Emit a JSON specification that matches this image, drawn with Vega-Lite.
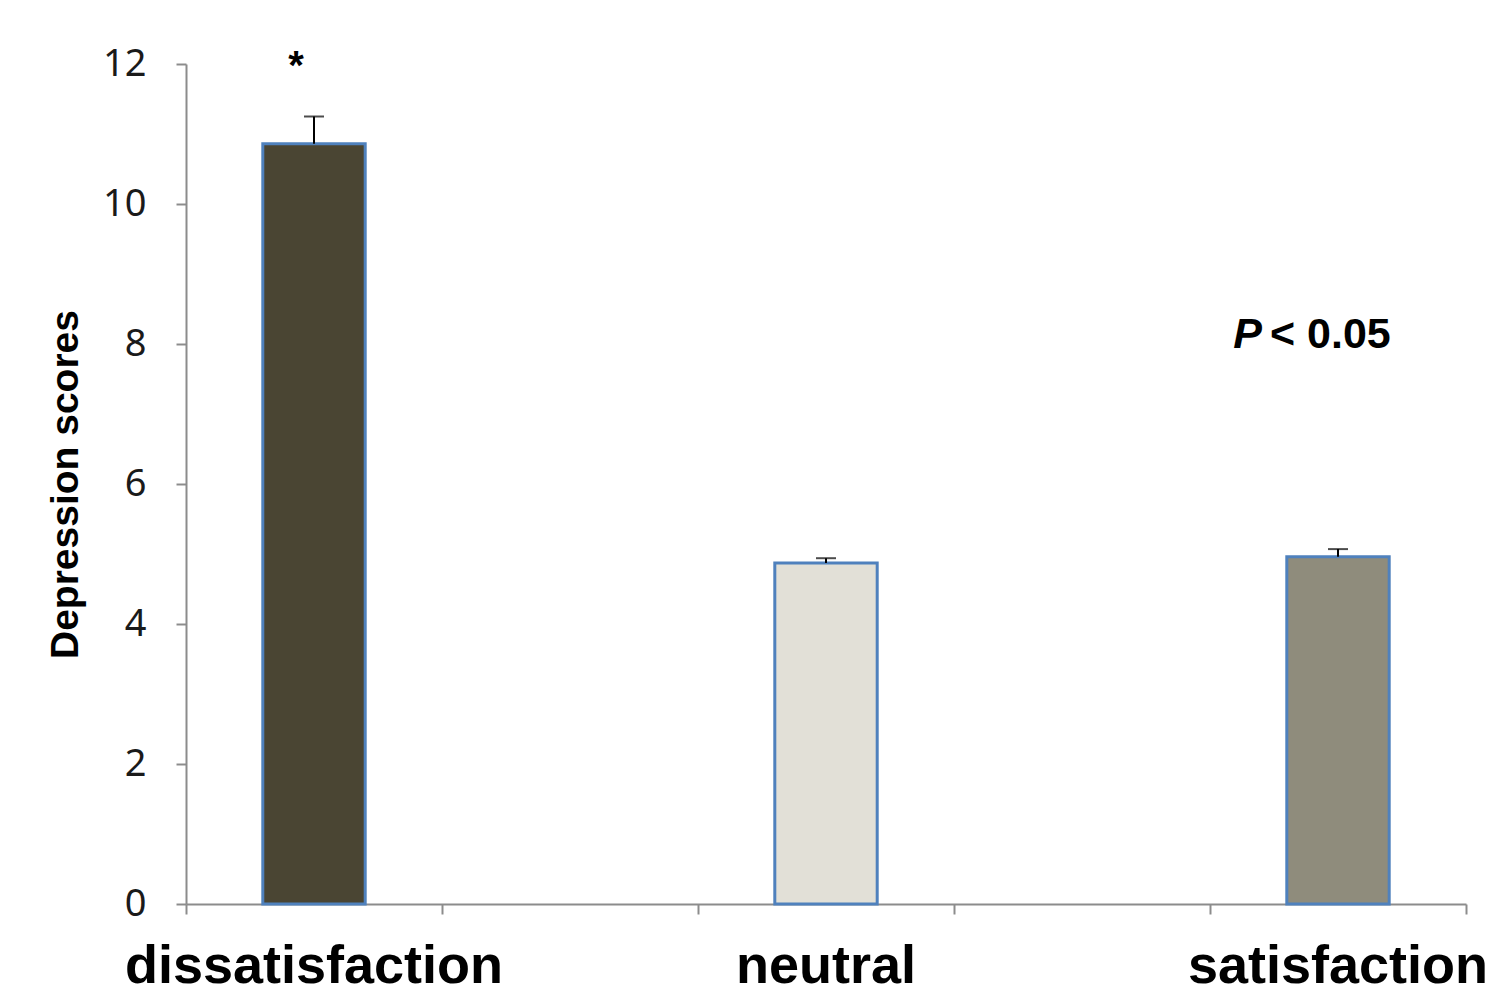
{
  "$schema": "https://vega.github.io/schema/vega-lite/v6.json",
  "width": 1280,
  "height": 840,
  "autosize": "none",
  "padding": {"left": 186, "top": 64, "right": 25, "bottom": 88},
  "background": "white",
  "config": {"view": {"stroke": null}},
  "resolve": {"scale": {"x": "independent"}, "axis": {"x": "independent"}},
  "layer": [
    {
      "data": {"values": [{"edge": 0}, {"edge": 1}, {"edge": 2}, {"edge": 3}, {"edge": 4}, {"edge": 5}]},
      "mark": {"type": "rule", "opacity": 0},
      "encoding": {
        "x": {
          "field": "edge",
          "type": "quantitative",
          "scale": {"domain": [0, 5], "nice": false, "zero": false},
          "axis": {
            "orient": "bottom",
            "title": null,
            "values": [0, 1, 2, 3, 4, 5],
            "labels": false,
            "grid": false,
            "tickSize": 10,
            "tickColor": "#8c8c8c",
            "tickWidth": 2,
            "domainColor": "#8c8c8c",
            "domainWidth": 2
          }
        }
      }
    },
    {
      "data": {
        "values": [
          {"group": "dissatisfaction", "score": 10.86, "upper": 11.25},
          {"group": "neutral", "score": 4.87, "upper": 4.94},
          {"group": "satisfaction", "score": 4.96, "upper": 5.07}
        ]
      },
      "encoding": {
        "x": {
          "field": "group",
          "type": "nominal",
          "scale": {"domain": ["dissatisfaction", "gap1", "neutral", "gap2", "satisfaction"], "paddingInner": 0, "paddingOuter": 0},
          "axis": {
            "orient": "bottom",
            "title": null,
            "labelAngle": 0,
            "labelExpr": "indexof(datum.value, 'gap') == 0 ? '' : datum.value",
            "ticks": false,
            "tickSize": 0,
            "domain": false,
            "labelFont": "Liberation Sans",
            "labelFontWeight": "bold",
            "labelFontSize": 54,
            "labelColor": "#000000",
            "labelPadding": 35,
            "labelLimit": 0,
            "labelOverlap": false
          }
        }
      },
      "layer": [
        {
          "mark": {"type": "bar", "width": {"band": 0.4}, "stroke": "#4f81bd", "strokeWidth": 3},
          "encoding": {
            "y": {
              "field": "score",
              "type": "quantitative",
              "scale": {"domain": [0, 12], "nice": false},
              "axis": {
                "values": [0, 2, 4, 6, 8, 10, 12],
                "format": "d",
                "grid": false,
                "title": "Depression scores",
                "titleFont": "Liberation Sans",
                "titleFontWeight": "bold",
                "titleFontSize": 39,
                "titleColor": "#000000",
                "titlePadding": 17,
                "tickSize": 10,
                "tickColor": "#8c8c8c",
                "tickWidth": 2,
                "domainColor": "#8c8c8c",
                "domainWidth": 2,
                "labelFont": "Noto Sans",
                "labelFontSize": 38,
                "labelColor": "#1a1a1a",
                "labelPadding": 30
              }
            },
            "color": {
              "field": "group",
              "type": "nominal",
              "scale": {"domain": ["dissatisfaction", "neutral", "satisfaction"], "range": ["#4a4533", "#e2e0d7", "#8f8c7c"]},
              "legend": null
            }
          }
        },
        {
          "mark": {"type": "rule", "color": "#000000", "strokeWidth": 2},
          "encoding": {
            "y": {"field": "score", "type": "quantitative"},
            "y2": {"field": "upper"}
          }
        },
        {
          "mark": {"type": "tick", "color": "#000000", "thickness": 2, "size": 20},
          "encoding": {
            "y": {"field": "upper", "type": "quantitative"}
          }
        },
        {
          "data": {"values": [{"group": "dissatisfaction", "pos": 12, "label": "*"}]},
          "mark": {"type": "text", "font": "Liberation Sans", "fontWeight": "bold", "fontSize": 40, "baseline": "middle", "dx": -18, "dy": 3},
          "encoding": {
            "y": {"field": "pos", "type": "quantitative"},
            "text": {"field": "label"}
          }
        },
        {
          "data": {"values": [{"group": "satisfaction", "pos": 7.94, "label": "P"}]},
          "mark": {"type": "text", "font": "Liberation Sans", "fontWeight": "bold", "fontStyle": "italic", "fontSize": 43, "align": "right", "baseline": "alphabetic", "dx": -76},
          "encoding": {
            "y": {"field": "pos", "type": "quantitative"},
            "text": {"field": "label"}
          }
        },
        {
          "data": {"values": [{"group": "satisfaction", "pos": 7.94, "label": "< 0.05"}]},
          "mark": {"type": "text", "font": "Liberation Sans", "fontWeight": "bold", "fontSize": 43, "align": "left", "baseline": "alphabetic", "dx": -68},
          "encoding": {
            "y": {"field": "pos", "type": "quantitative"},
            "text": {"field": "label"}
          }
        }
      ]
    }
  ]
}
